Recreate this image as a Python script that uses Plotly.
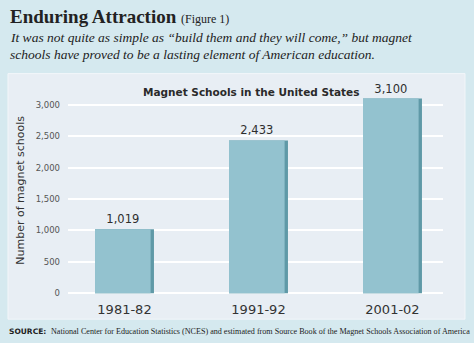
import plotly.graph_objects as go

categories = ["1981-82", "1991-92", "2001-02"]
schools = [1019, 2433, 3100]
value_labels = ["1,019", "2,433", "3,100"]
y_ticks = [0, 500, 1000, 1500, 2000, 2500, 3000]
y_tick_labels = ["0", "500", "1,000", "1,500", "2,000", "2,500", "3,000"]

W, H = 474, 343
OUTER = "#d5e9ef"
INNER = "#e8eef4"
BAR = "#93c2cf"
BAR_EDGE = "#5f99a7"
SERIF = "Liberation Serif, DejaVu Serif, serif"
SANS = "DejaVu Sans, Noto Sans, sans-serif"

fig = go.Figure()
# darker shadow bar (full width) and lighter face bar on top
fig.add_trace(go.Bar(x=categories, y=schools, width=0.44, offset=-0.22,
                     marker=dict(color=BAR_EDGE, line=dict(width=0)),
                     hoverinfo="skip", showlegend=False))
fig.add_trace(go.Bar(x=categories, y=schools, width=0.415, offset=-0.22,
                     marker=dict(color=BAR, line=dict(width=0)),
                     text=value_labels, textposition="outside", cliponaxis=False,
                     textfont=dict(family=SANS, size=11.5, color="#2e2e2e"),
                     showlegend=False))

def px_x(p):
    return p / W

def px_y(p):
    return 1 - p / H

fig.update_layout(
    width=W, height=H,
    margin=dict(l=0, r=0, t=0, b=0),
    paper_bgcolor=OUTER,
    plot_bgcolor="rgba(0,0,0,0)",
    barmode="overlay",
    xaxis=dict(domain=[px_x(68), px_x(443)], range=[-0.4216, 2.377],
               type="category", showgrid=False, zeroline=False, showline=False,
               ticks="", ticklabelstandoff=4,
               tickfont=dict(family=SANS, size=13, color="#333333")),
    yaxis=dict(domain=[px_y(298), px_y(85)], range=[-47.5, 3324],
               tickvals=y_ticks, ticktext=y_tick_labels,
               showgrid=True, gridcolor="#ffffff", gridwidth=1.5,
               zeroline=False, showline=False, ticks="", ticklen=0,
               ticklabelstandoff=7,
               tickfont=dict(family=SANS, size=8.5, color="#555555"),
               title=dict(text="Number of magnet schools", standoff=8,
                          font=dict(family=SANS, size=11, color="#333333"))),
    shapes=[dict(type="rect", xref="paper", yref="paper",
                 x0=px_x(8), x1=px_x(465), y0=px_y(321), y1=px_y(74),
                 fillcolor=INNER, line=dict(color="#f2f6f9", width=1), layer="below")],
    annotations=[
        dict(text="<b>Enduring Attraction</b> <span style='font-size:12px'>(Figure 1)</span>",
             xref="paper", yref="paper", x=px_x(8), y=px_y(17), xanchor="left", yanchor="middle",
             showarrow=False, font=dict(family=SERIF, size=19, color="#222222")),
        dict(text="<i>It was not quite as simple as \u201cbuild them and they will come,\u201d but magnet</i>",
             xref="paper", yref="paper", x=px_x(8), y=px_y(38), xanchor="left", yanchor="middle",
             showarrow=False, font=dict(family=SERIF, size=13.5, color="#222222")),
        dict(text="<i>schools have proved to be a lasting element of American education.</i>",
             xref="paper", yref="paper", x=px_x(8), y=px_y(55), xanchor="left", yanchor="middle",
             showarrow=False, font=dict(family=SERIF, size=13.5, color="#222222")),
        dict(text="<b>Magnet Schools in the United States</b>",
             xref="paper", yref="paper", x=px_x(252), y=px_y(93), xanchor="center", yanchor="middle",
             showarrow=False, font=dict(family=SANS, size=10.5, color="#2a2a2a")),
        dict(text="<b>SOURCE:</b>",
             xref="paper", yref="paper", x=px_x(7), y=px_y(333), xanchor="left", yanchor="middle",
             showarrow=False, font=dict(family=SANS, size=7.5, color="#222222")),
        dict(text="National Center for Education Statistics (NCES) and estimated from Source Book of the Magnet Schools Association of America",
             xref="paper", yref="paper", x=px_x(49), y=px_y(333), xanchor="left", yanchor="middle",
             showarrow=False, font=dict(family=SERIF, size=8.1, color="#222222")),
    ],
)

fig.write_html("out.html")
